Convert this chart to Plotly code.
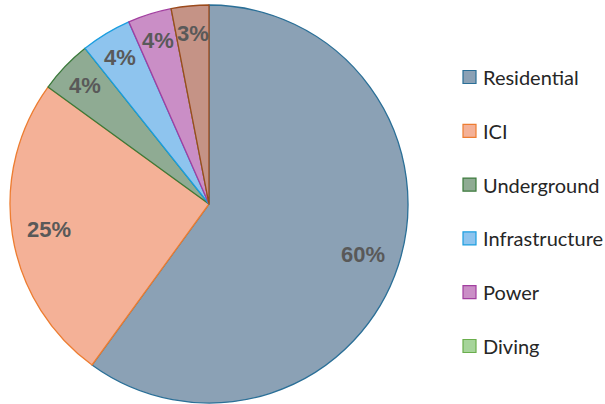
import math
import plotly.graph_objects as go

categories = ["Residential", "ICI", "Underground", "Infrastructure", "Power", "Diving", "Other"]
values = [60.0, 25.0, 4.3, 4.1, 3.55, 0.0, 3.05]
legend_items = ["Residential", "ICI", "Underground", "Infrastructure", "Power", "Diving"]

fills = ["#8ba1b5", "#f4b197", "#8fab93", "#8ec4ee", "#ca8ec6", "#a6d49a", "#c59386"]
lines = ["#2a6f97", "#ed7d31", "#3b7a3b", "#1b9ee0", "#a23fa0", "#6aae4c", "#9b4a1c"]

W, H = 605, 404
CX, CY, R = 209, 204, 199

fig = go.Figure()
fig.add_trace(go.Pie(
    labels=categories, values=values, sort=False, direction="clockwise", rotation=0,
    marker=dict(colors=fills, line=dict(color=lines, width=1.3)),
    textinfo="none", hoverinfo="label+percent", showlegend=False,
    domain=dict(x=[(CX - R) / W, (CX + R) / W], y=[(H - CY - R) / H, (H - CY + R) / H]),
))

annotations = []
total = sum(values)
cum = 0.0
for v in values:
    if v > 0:
        share = v / total
        mid = (cum + v / 2) / total * 2 * math.pi
        rf = 0.86 if share < 0.05 else 0.815
        px = CX + rf * R * math.sin(mid)
        py = CY - rf * R * math.cos(mid)
        annotations.append(dict(
            x=px / W, y=(H - py) / H, xref="paper", yref="paper",
            xanchor="center", yanchor="middle",
            text=f"{round(share * 100)}%", showarrow=False,
            font=dict(family="Liberation Sans, Arial", size=22, color="#595959", weight="bold"),
        ))
    cum += v

shapes = []
y0 = 77
gap = 53.8
for i, name in enumerate(legend_items):
    yc = y0 + i * gap
    idx = categories.index(name)
    shapes.append(dict(
        type="rect", xref="paper", yref="paper",
        x0=463 / W, x1=476 / W, y0=(H - yc - 6.5) / H, y1=(H - yc + 6.5) / H,
        fillcolor=fills[idx], line=dict(color=lines[idx], width=1.2),
    ))
    annotations.append(dict(
        x=481 / W, y=(H - yc) / H, xref="paper", yref="paper", xanchor="left", yanchor="middle",
        text=name, showarrow=False,
        font=dict(family="Lato, Open Sans, sans-serif", size=20, color="#262626"),
    ))

fig.update_layout(
    width=W, height=H, margin=dict(l=0, r=0, t=0, b=0),
    paper_bgcolor="white", plot_bgcolor="white",
    annotations=annotations, shapes=shapes,
)
fig.write_html("out.html", config={"displayModeBar": False},
               post_script="document.body.style.margin='0';")
